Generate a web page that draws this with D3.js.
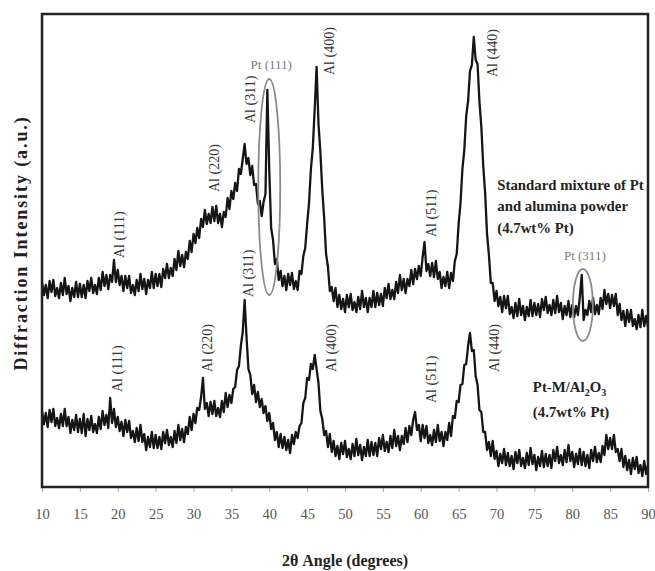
<!DOCTYPE html>
<html>
<head>
<meta charset="utf-8">
<script src="https://cdn.jsdelivr.net/npm/d3@7"></script>
<style>
  body { margin: 0; background: #fff; }
  svg { display: block; }
  text { font-family: 'Liberation Serif', 'Times New Roman', serif; }
</style>
</head>
<body>
<div id="chart"></div>
<script>
// 2-theta grid of the scan, 10 to 90 degrees in 0.25 degree steps
var angles = d3.range(321).map((i) => 10 + i * 0.25);

// standard mixture of Pt and alumina powder (a.u.)
var mixture = [
  205,192,202,189, 206,195,207,191, 199,189,204,192, 209,193,201,186,
  199,190,205,190, 203,190,202,189, 206,196,209,194, 202,193,209,197,
  215,201,212,198, 212,205,227,205, 217,202,211,196, 211,199,211,194,
  202,192,207,196, 213,198,208,193, 207,199,215,199, 213,201,213,200,
  218,209,223,209, 219,211,228,217, 236,221,232,220, 235,228,246,235,
  253,244,259,249, 268,260,277,263, 273,264,280,266, 281,264,273,260,
  275,270,289,278, 296,288,304,296, 318,313,328,343, 323,329,312,321,
  302,303,283,286, 271,285,293,397, 317,259,247,223, 228,207,216,201,
  211,197,213,202, 214,198,206,197, 216,213,231,239, 263,284,318,339,
  378,420,363,335, 297,269,233,220, 196,200,186,199, 180,192,178,188,
  175,192,180,193, 177,185,175,190, 178,196,180,189, 175,189,180,196,
  180,194,182,193, 181,199,189,203, 188,197,188,205, 194,212,197,208,
  194,208,201,217, 203,218,208,221, 211,230,245,216, 223,211,224,210,
  226,208,215,199, 210,201,215,199, 214,206,226,233, 263,284,318,337,
  371,386,416,422, 450,427,423,385, 360,321,294,253, 232,204,204,186,
  196,181,190,175, 191,179,191,173, 180,169,184,171, 188,172,181,167,
  180,171,187,171, 184,172,183,170, 188,177,190,174, 182,172,187,174,
  191,175,184,168, 181,172,186,170, 182,170,181,172, 190,212,167,177,
  172,186,175,189, 173,182,173,189, 178,197,183,193, 179,192,181,193,
  172,183,167,176, 161,177,165,177, 161,168,158,172, 160,177,161,171,
  160
];

// Pt-M/Al2O3 (4.7wt% Pt) (a.u.)
var ptm = [
  76,63,74,60, 77,65,78,61, 69,59,73,61, 78,61,70,54,
  67,57,72,55, 68,54,73,51, 68,57,71,55, 63,54,70,58,
  76,62,72,59, 89,64,78,60, 70,56,65,51, 67,55,66,49,
  56,45,59,46, 62,45,53,37, 50,40,55,39, 52,39,50,38,
  55,44,57,42, 50,40,56,44, 62,47,58,45, 60,53,70,57,
  73,64,79,77, 90,109,78,84, 71,85,73,86, 71,79,70,86,
  75,94,80,92, 84,98,100,117, 121,141,155,187, 150,118,112,93,
  102,85,95,80, 88,74,81,66, 74,58,64,47, 55,40,53,39,
  50,37,47,34, 52,43,55,49, 61,64,84,89, 109,107,123,118,
  132,118,104,76, 68,52,56,40, 53,35,46,31, 41,28,44,33,
  46,30,38,28, 43,31,48,32, 42,27,40,31, 47,31,45,32,
  44,31,49,38, 52,36,45,35, 51,39,57,41, 51,37,51,43,
  59,45,61,52, 67,75,57,62, 46,62,49,61, 44,52,42,57,
  45,62,46,55, 41,55,47,64, 51,71,69,86, 85,102,103,122,
  123,141,154,136, 137,111,102,77, 75,55,55,37, 45,31,46,28,
  36,21,33,24, 38,22,34,21, 31,18,35,24, 37,21,29,19,
  34,22,39,23, 32,17,30,21, 36,20,33,21, 32,19,37,26,
  40,24,32,22, 37,25,42,26, 35,20,33,23, 38,22,35,21,
  32,19,37,26, 40,25,34,25, 41,32,52,38, 49,38,52,35,
  38,26,38,20, 31,17,27,13, 29,18,30,14, 22,11,26,13,
  22
];

var xTicks = [10, 15, 20, 25, 30, 35, 40, 45, 50, 55, 60, 65, 70, 75, 80, 85, 90];

// reflection labels: [text, 2theta, intensity at text foot]
var mixtureLabels = [
  ['Al (111)', 20.2, 229], ['Al (220)', 32.8, 295], ['Al (311)', 37.5, 364],
  ['Al (400)', 47.9, 412], ['Al (511)', 61.4, 250], ['Al (440)', 69.5, 410]
];
var ptmLabels = [
  ['Al (111)', 20.0, 95], ['Al (220)', 31.9, 115], ['Al (311)', 37.3, 190],
  ['Al (400)', 48.2, 115], ['Al (511)', 61.4, 84], ['Al (440)', 69.7, 115]
];
// Pt reflections: [text, 2theta, label intensity, ellipse intensity, half width deg, half height]
var ptMarks = [
  ['Pt (111)', 40.0, 418, 300, 1.45, 108],
  ['Pt (311)', 81.4, 227, 182, 1.32, 36]
];

var width = 655, height = 571;
var margin = {top: 14, right: 7, bottom: 84, left: 42};

var svg = d3.select('#chart')
  .append('svg')
  .attr('width', width)
  .attr('height', height);

var x = d3.scaleLinear().domain([10, 90]).range([margin.left, width - margin.right]);
var y = d3.scaleLinear().domain([0, 473]).range([height - margin.bottom, margin.top]);

// x axis ticks
var xAxis = d3.axisBottom(x).tickValues(xTicks).tickSize(4).tickSizeOuter(0).tickPadding(17);
var gx = svg.append('g')
  .attr('transform', 'translate(0,' + (height - margin.bottom + 1) + ')')
  .call(xAxis);
gx.select('.domain').remove();
gx.selectAll('line').style('stroke', '#aaa');
gx.selectAll('text')
  .style('font-size', '14.5px')
  .style('fill', '#555');

// traces
var line = d3.line()
  .x((d, i) => x(angles[i]))
  .y((d) => y(d));

[mixture, ptm].forEach(function(series) {
  svg.append('path')
    .datum(series)
    .attr('d', line)
    .style('fill', 'none')
    .style('stroke', '#151515')
    .style('stroke-width', 2.3)
    .style('stroke-linejoin', 'round');
});

// frame
svg.append('rect')
  .attr('x', margin.left)
  .attr('y', margin.top)
  .attr('width', width - margin.left - margin.right)
  .attr('height', height - margin.top - margin.bottom)
  .style('fill', 'none')
  .style('stroke', '#222')
  .style('stroke-width', 2.5);

// Al reflection labels
svg.selectAll('.al')
  .data(mixtureLabels.concat(ptmLabels))
  .enter()
  .append('text')
  .attr('class', 'al')
  .attr('transform', (d) => 'translate(' + x(d[1]) + ',' + y(d[2]) + ') rotate(-90)')
  .attr('dominant-baseline', 'central')
  .style('font-size', '14px')
  .style('fill', '#333')
  .text((d) => d[0]);

// Pt reflections with ellipses
svg.selectAll('.pt')
  .data(ptMarks)
  .enter()
  .append('ellipse')
  .attr('cx', (d) => x(d[1]))
  .attr('cy', (d) => y(d[3]))
  .attr('rx', (d) => x(d[1] + d[4]) - x(d[1]))
  .attr('ry', (d) => y(0) - y(d[5]))
  .style('fill', 'none')
  .style('stroke', '#8a8a8a')
  .style('stroke-width', 1.8);

svg.selectAll('.ptlabel')
  .data(ptMarks)
  .enter()
  .append('text')
  .attr('x', (d) => x(d[1]) + 2)
  .attr('y', (d) => y(d[2]))
  .attr('text-anchor', 'middle')
  .style('font-size', '13px')
  .style('fill', '#7a7a7a')
  .text((d) => d[0]);

// sample names
var mixName = svg.append('text')
  .style('font-size', '14.8px')
  .style('font-weight', 'bold')
  .style('fill', '#222');
['Standard mixture of Pt', 'and alumina powder', '(4.7wt% Pt)'].forEach(function(t, i) {
  mixName.append('tspan')
    .attr('x', x(70.1))
    .attr('y', y([297, 276, 254][i]))
    .text(t);
});

var ptmName = svg.append('text')
  .attr('x', x(74.8))
  .attr('y', y(95))
  .style('font-size', '14.8px')
  .style('font-weight', 'bold')
  .style('fill', '#222');
ptmName.append('tspan').text('Pt-M/Al');
ptmName.append('tspan').attr('dy', 4).style('font-size', '10px').text('2');
ptmName.append('tspan').attr('dy', -4).text('O');
ptmName.append('tspan').attr('dy', 4).style('font-size', '10px').text('3');

svg.append('text')
  .attr('x', x(74.8))
  .attr('y', y(70))
  .style('font-size', '14.8px')
  .style('font-weight', 'bold')
  .style('fill', '#222')
  .text('(4.7wt% Pt)');

// axis titles
svg.append('text')
  .attr('x', 345)
  .attr('y', 566)
  .attr('text-anchor', 'middle')
  .style('font-size', '16px')
  .style('font-weight', 'bold')
  .style('fill', '#222')
  .text('2θ Angle (degrees)');

svg.append('text')
  .attr('transform', 'translate(21,' + y(244) + ') rotate(-90)')
  .attr('text-anchor', 'middle')
  .attr('dominant-baseline', 'central')
  .style('font-size', '18px')
  .style('font-weight', 'bold')
  .style('letter-spacing', '1.9px')
  .style('fill', '#222')
  .text('Diffraction Intensity (a.u.)');
</script>
</body>
</html>
